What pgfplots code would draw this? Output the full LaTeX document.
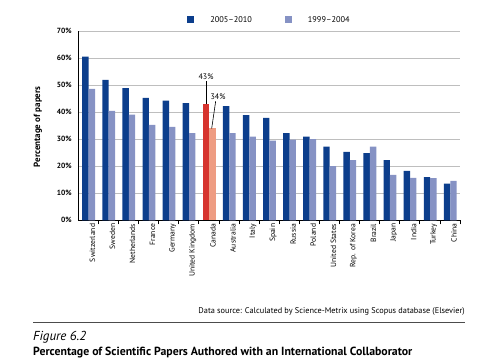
\documentclass[border=0pt]{standalone}
\usepackage{fontspec}
\setmainfont{PT Sans}
\usepackage{pgfplots}
\pgfplotsset{compat=1.18}
\definecolor{dblue}{RGB}{12,62,140}
\definecolor{lblue}{RGB}{134,146,196}
\definecolor{cred}{RGB}{214,52,46}
\definecolor{csalmon}{RGB}{238,156,130}
\definecolor{gridgray}{RGB}{190,190,190}
\begin{document}
\begin{tikzpicture}[x=1pt,y=1pt]
\path[use as bounding box] (0,0) rectangle (480,361);
\begin{axis}[
  at={(78.3pt,140.7pt)}, anchor=south west, scale only axis,
  width=381.7pt, height=189pt,
  xmin=-0.5, xmax=18.5, ymin=0, ymax=70,
  axis x line*=bottom, axis y line*=left,
  axis line style={black, line width=1.1pt, -},
  ytick={0,10,...,70},
  yticklabels={0\%,10\%,20\%,30\%,40\%,50\%,60\%,70\%},
  ymajorgrids, grid style={gridgray, line width=0.7pt},
  y tick style={draw=none}, major tick length=0pt,
  yticklabel style={font=\bfseries\fontsize{7.5}{8}\selectfont, xshift=-3pt},
  xtick={0,...,18},
  xticklabels={Switzerland,Sweden,Netherlands,France,Germany,United Kingdom,Canada,Australia,Italy,Spain,Russia,Poland,United States,Rep. of Korea,Brazil,Japan,India,Turkey,China},
  xticklabel style={rotate=90, anchor=east, font=\fontsize{7.6}{8}\selectfont, yshift=-4pt},
  tick align=outside,
  extra x ticks={0.5,1.5,...,18.5}, extra x tick labels={},
  extra x tick style={major tick length=4pt, xmajorgrids=false, ymajorgrids=false,
    tick style={draw=black, line width=0.8pt}},
  ylabel={Percentage of papers},
  ylabel style={font=\bfseries\fontsize{9}{10}\selectfont, at={(axis description cs:-0.1056,0.494)}, anchor=center},
  ybar, bar width=6.4pt,
  legend columns=2,
  legend style={at={(axis description cs:0.285,1.06)}, anchor=west, draw=none, fill=none,
    inner sep=0pt, font=\fontsize{8.3}{9}\selectfont,
    /tikz/every even column/.append style={column sep=31pt}},
  legend image code/.code={\fill[#1, draw=none] (0pt,-3pt) rectangle (7pt,3.5pt); \path[draw=none, fill=none] (0pt,0pt) -- (21pt,0pt);},
]
\addplot[fill=dblue, draw=none, bar shift=-2.9pt] coordinates {
(0,60.6) (1,52.0) (2,49.0) (3,45.3) (4,44.3) (5,43.4) (7,42.3) (8,39.0) (9,37.9) (10,32.3) (11,31.0) (12,27.3) (13,25.3) (14,24.9) (15,22.3) (16,18.3) (17,16.0) (18,13.6)};
\addlegendentry{2005--2010}
\addplot[fill=lblue, draw=none, bar shift=3.5pt] coordinates {
(0,48.7) (1,40.5) (2,39.1) (3,35.3) (4,34.6) (5,32.3) (7,32.3) (8,31.0) (9,29.5) (10,29.9) (11,30.1) (12,20.1) (13,22.3) (14,27.3) (15,16.8) (16,15.7) (17,15.6) (18,14.6)};
\addlegendentry{1999--2004}
\addplot[fill=cred, draw=none, bar shift=-2.9pt, forget plot] coordinates {(6,43)};
\addplot[fill=csalmon, draw=none, bar shift=3.5pt, forget plot] coordinates {(6,34)};
\draw[black, line width=0.6pt] ([xshift=-2.9pt]axis cs:6,43) -- ++(0pt,23.5pt)
  node[above, inner sep=1pt, font=\fontsize{8}{9}\selectfont] {43\%};
\draw[black, line width=0.6pt] ([xshift=2.8pt]axis cs:6,34) -- ++(4pt,27.3pt)
  node[above, inner sep=1pt, xshift=2.3pt, font=\fontsize{8}{9}\selectfont] {34\%};
\end{axis}
\node[anchor=base east, inner sep=0pt, font=\fontsize{8.3}{9}\selectfont] at (465,47) {Data source: Calculated by Science-Metrix using Scopus database (Elsevier)};
\draw[black!70, line width=0.8pt] (33,38.7) -- (465,38.7);
\node[anchor=base west, inner sep=0pt, font=\itshape\fontsize{13}{14}\selectfont] at (33,20) {Figure 6.2};
\node[anchor=base west, inner sep=0pt, font=\bfseries\fontsize{11.8}{13}\selectfont] at (33,5) {Percentage of Scientific Papers Authored with an International Collaborator};
\end{tikzpicture}
\end{document}
